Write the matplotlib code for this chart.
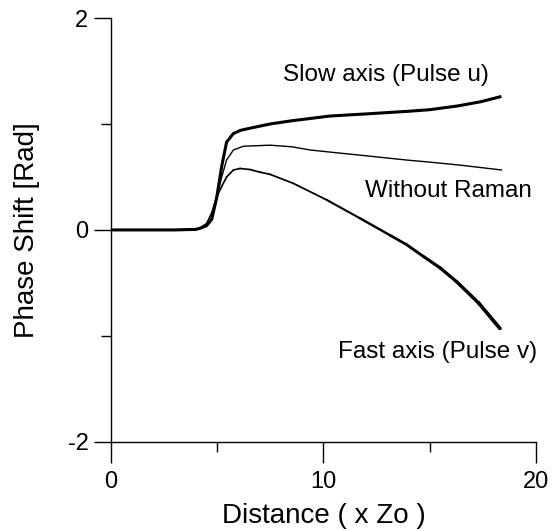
import matplotlib
matplotlib.use("Agg")
import matplotlib.pyplot as plt
import numpy as np
from matplotlib.collections import LineCollection

plt.rcParams['font.family'] = ['Liberation Sans', 'DejaVu Sans']

# Slow axis (Pulse u)
slow_x = [0, 3.0, 4.0, 4.21, 4.51, 4.75, 4.98, 5.22, 5.45, 5.77, 6.1, 6.55, 7.49, 8.5, 10.3, 12.0, 14.0, 15.0, 16.3, 17.4, 18.37]
slow_y = [0, 0, 0.005, 0.016, 0.04, 0.10, 0.30, 0.60, 0.83, 0.91, 0.94, 0.96, 1.0, 1.03, 1.075, 1.095, 1.12, 1.135, 1.17, 1.21, 1.26]

# Without Raman
wr_x = [0, 3.0, 4.0, 4.21, 4.51, 4.75, 4.98, 5.22, 5.45, 5.77, 6.24, 7.49, 8.5, 9.37, 10.3, 12.0, 13.9, 15.0, 16.5, 18.37]
wr_y = [0, 0, 0.005, 0.016, 0.04, 0.10, 0.30, 0.50, 0.66, 0.755, 0.79, 0.80, 0.785, 0.755, 0.735, 0.70, 0.66, 0.64, 0.61, 0.566]

# Fast axis (Pulse v)
fast_x = [0, 3.0, 4.0, 4.21, 4.51, 4.75, 4.98, 5.22, 5.45, 5.77, 6.08, 6.55, 7.02, 7.49, 8.58, 10.16, 11.72, 13.13, 13.92, 14.7, 15.5, 16.27, 17.3, 18.3]
fast_y = [0, 0, 0.008, 0.02, 0.06, 0.16, 0.31, 0.41, 0.50, 0.566, 0.58, 0.57, 0.545, 0.525, 0.44, 0.283, 0.11, -0.05, -0.14, -0.25, -0.36, -0.49, -0.69, -0.93]

xticks = [0, 10, 20]
yticks = [-2, 0, 2]

fig = plt.figure(figsize=(5.59, 5.31), dpi=100)
ax = fig.add_axes([0.198, 0.168, 0.761, 0.798])

ax.plot(wr_x, wr_y, color='black', lw=1.0)
ax.plot(slow_x, slow_y, color='black', lw=2.2, solid_capstyle='butt')

fx = np.array(fast_x, dtype=float)
fy = np.array(fast_y, dtype=float)
pts = np.column_stack([fx, fy]).reshape(-1, 1, 2)
segs = np.concatenate([pts[:-1], pts[1:]], axis=1)
widths = np.interp(fx[:-1], [0, 9, 18.3], [1.1, 1.3, 2.8])
ax.add_collection(LineCollection(segs, colors='black', linewidths=widths, capstyle='round', joinstyle='round'))

ax.set_xlim(0, 20)
ax.set_ylim(-2, 2)
ax.set_xticks(xticks)
ax.set_yticks(yticks)
ax.set_xticks([5, 15], minor=True)
ax.set_yticks([-1, 1], minor=True)
ax.set_xticklabels([str(t) for t in xticks])
ax.set_yticklabels([str(t) for t in yticks])
ax.tick_params(axis='both', which='major', direction='out', width=1, labelsize=17)
ax.tick_params(axis='both', which='minor', direction='out', length=7, width=1)
ax.tick_params(axis='x', which='major', length=15, pad=6)
ax.tick_params(axis='y', which='major', length=12, pad=4)
for s in ['top', 'right']:
    ax.spines[s].set_visible(False)
for s in ['left', 'bottom']:
    ax.spines[s].set_linewidth(1.0)

ax.set_xlabel('Distance ( x Zo )', fontsize=20, va='center')
ax.xaxis.set_label_coords(0.5, -0.175)
ax.set_ylabel('Phase Shift [Rad]', fontsize=20, va='center')
ax.yaxis.set_label_coords(-0.197, 0.5)

ax.text(8.10, 1.46, 'Slow axis (Pulse u)', fontsize=17.5, ha='left', va='center')
ax.text(11.96, 0.37, 'Without Raman', fontsize=17.5, ha='left', va='center')
ax.text(10.69, -1.15, 'Fast axis (Pulse v)', fontsize=17.5, ha='left', va='center')

fig.savefig('out.png', dpi=100)
